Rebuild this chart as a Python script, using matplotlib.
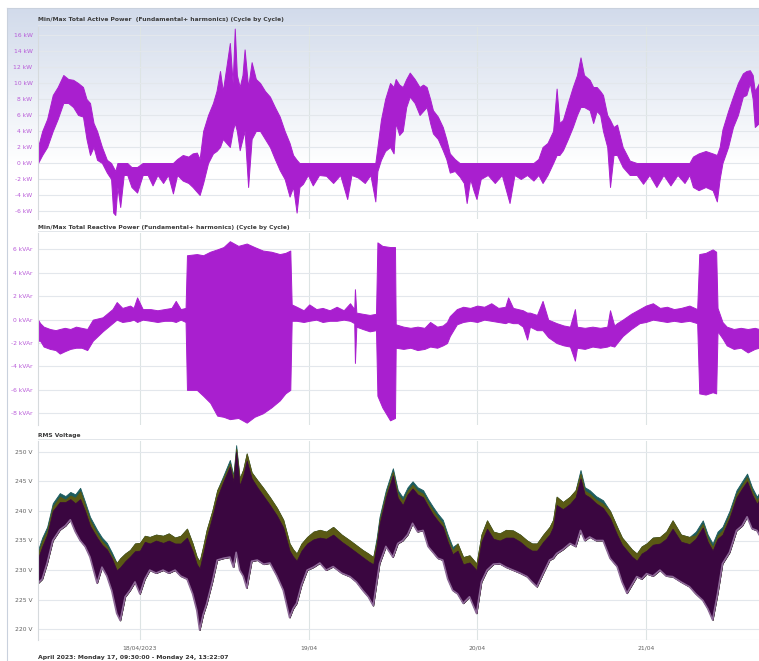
import numpy as np
import matplotlib.pyplot as plt
from matplotlib.colors import LinearSegmentedColormap

# time axis: hours since Monday 17/04/2023 09:30
day_ticks = [14.5, 38.5, 62.5, 86.5]
day_labels = ["18/04/2023", "19/04", "20/04", "21/04"]
x_end = 102.6

titles = ["Min/Max Total Active Power  (Fundamental+ harmonics) (Cycle by Cycle)",
          "Min/Max Total Reactive Power (Fundamental+ harmonics) (Cycle by Cycle)",
          "RMS Voltage"]
footer = "April 2023: Monday 17, 09:30:00 - Monday 24, 13:22:07"

# active power (kW), min / max per cycle
p_hours = [0.0, 0.6, 1.3, 2.1, 2.8, 3.6, 4.3, 5.0, 5.7, 6.4,
           6.9, 7.4, 7.9, 8.4, 9.1, 9.8, 10.4, 10.7, 11.0, 11.3,
           11.7, 12.2, 12.7, 13.3, 14.1, 14.9, 15.6, 16.3, 17.0, 17.8,
           18.5, 19.2, 19.8, 20.6, 21.4, 22.0, 22.6, 23.0, 23.5, 24.2,
           24.9, 25.4, 25.9, 26.3, 26.8, 27.3, 27.7, 28.0, 28.3, 28.7,
           29.1, 29.4, 29.9, 30.4, 31.0, 31.6, 32.3, 33.0, 33.7, 34.4,
           35.1, 35.8, 36.3, 36.8, 37.2, 37.7, 38.4, 39.1, 40.0, 41.0,
           42.0, 43.0, 44.0, 44.6, 45.5, 46.5, 47.3, 48.0, 48.3, 48.8,
           49.4, 50.1, 50.6, 50.9, 51.4, 51.9, 52.4, 52.9, 53.6, 54.3,
           54.8, 55.3, 55.8, 56.2, 56.9, 57.6, 58.1, 58.6, 59.3, 60.0,
           60.6, 61.0, 61.5, 62.0, 62.4, 63.0, 64.0, 65.0, 66.0, 67.1,
           67.8, 68.7, 69.6, 70.5, 71.2, 71.8, 72.5, 73.3, 73.8, 74.2,
           74.7, 75.4, 76.1, 76.7, 77.2, 77.7, 78.5, 79.0, 79.5, 80.0,
           80.4, 81.0, 81.4, 81.9, 82.4, 83.2, 84.2, 85.2, 86.1, 87.0,
           88.0, 89.0, 90.0, 91.0, 92.0, 92.7, 93.2, 94.0, 95.0, 96.0,
           96.6, 97.0, 97.4, 98.2, 98.9, 99.6, 100.3, 100.8, 101.3, 101.7,
           102.0, 102.6]
p_min = [0.0, 1.0, 2.0, 4.0, 5.5, 7.5, 7.5, 7.0, 6.0, 5.8,
         3.0, 1.0, 2.0, 0.4, 0.0, -1.2, -2.0, -6.2, -6.5, -3.0,
         -5.5, -1.5, -1.5, -3.0, -3.7, -1.5, -1.5, -2.8, -1.5, -2.5,
         -1.5, -3.8, -1.5, -2.2, -2.5, -3.0, -3.6, -4.0, -2.5, 0.0,
         1.2, 1.5, 2.0, 3.0, 2.5, 2.0, 4.0, 5.0, 4.0, 1.6,
         3.0, 4.0, -3.0, 3.0, 4.0, 4.0, 3.0, 2.0, 0.5, -0.9,
         -2.0, -4.2, -3.0, -6.2, -3.0, -2.6, -1.5, -2.8, -1.5, -1.6,
         -2.5, -1.5, -4.5, -1.5, -1.8, -2.5, -1.5, -4.8, -1.0, 0.4,
         1.5, 2.0, 1.2, 5.0, 3.5, 4.0, 7.0, 8.3, 7.5, 6.0,
         6.5, 7.0, 5.0, 3.7, 3.0, 1.6, 0.5, -1.2, -1.0, -1.7,
         -2.5, -5.0, -2.0, -3.5, -4.5, -2.0, -1.5, -2.5, -1.5, -5.0,
         -1.5, -2.0, -1.5, -2.2, -1.5, -2.5, -1.5, 0.0, 1.0, 1.0,
         1.6, 3.0, 4.5, 6.0, 7.0, 7.0, 6.6, 5.0, 6.5, 6.0,
         4.0, 2.0, -3.0, 1.0, 1.0, -0.5, -1.5, -1.5, -2.6, -1.5,
         -3.0, -1.5, -2.8, -1.5, -2.5, -1.5, -3.0, -3.4, -3.0, -3.4,
         -4.8, -2.0, 0.0, 2.0, 4.5, 6.0, 8.3, 8.5, 10.0, 8.0,
         4.5, 5.0]
p_max = [2.0, 4.0, 5.5, 8.5, 9.5, 11.0, 10.5, 10.4, 10.0, 9.5,
         8.0, 7.5, 5.0, 4.0, 2.0, 0.4, 0.0, -0.5, -1.0, 0.0,
         0.0, 0.0, 0.0, -0.5, -0.5, 0.0, 0.0, 0.0, 0.0, 0.0,
         0.0, 0.0, 0.5, 1.0, 0.8, 1.2, 1.3, 0.5, 4.0, 6.0,
         7.5, 9.0, 11.5, 9.0, 12.0, 15.0, 10.0, 16.8, 11.0, 9.5,
         11.0, 14.2, 9.5, 12.6, 10.5, 10.0, 9.0, 8.3, 7.0, 5.8,
         4.0, 2.5, 1.0, 0.4, 0.0, 0.0, 0.0, 0.0, 0.0, 0.0,
         0.0, 0.0, 0.0, 0.0, 0.0, 0.0, 0.0, 0.0, 2.0, 5.4,
         8.0, 10.0, 9.5, 10.5, 9.8, 9.5, 10.5, 11.3, 10.5, 9.5,
         9.8, 9.5, 8.0, 6.6, 5.8, 4.5, 3.0, 1.2, 0.5, 0.0,
         0.0, 0.0, 0.0, 0.0, 0.0, 0.0, 0.0, 0.0, 0.0, 0.0,
         0.0, 0.0, 0.0, 0.0, 0.5, 2.0, 2.5, 4.0, 9.3, 5.0,
         5.4, 7.5, 9.5, 11.0, 13.2, 11.0, 10.4, 9.5, 9.5, 9.0,
         8.5, 6.0, 5.4, 4.5, 4.8, 2.0, 0.3, 0.0, 0.0, 0.0,
         0.0, 0.0, 0.0, 0.0, 0.0, 0.0, 0.8, 1.2, 1.5, 1.2,
         1.0, 2.0, 4.2, 6.5, 8.3, 10.0, 11.2, 11.5, 11.6, 11.0,
         9.0, 10.0]

# reactive power (kVAr), min / max per cycle
q_hours = [0.0, 0.3, 0.8, 1.7, 2.5, 3.1, 3.8, 4.6, 5.4, 6.2,
           7.0, 7.4, 7.8, 8.5, 9.2, 10.0, 10.6, 11.2, 12.0, 13.1,
           13.6, 14.1, 14.9, 16.0, 17.0, 18.0, 19.0, 19.6, 20.3, 21.0,
           21.2, 22.6, 23.5, 24.5, 25.5, 26.4, 27.3, 28.5, 29.7, 30.8,
           32.0, 33.2, 34.4, 35.2, 35.9, 36.1, 36.8, 37.8, 38.6, 39.6,
           40.5, 41.5, 42.5, 43.5, 44.4, 45.0, 45.1, 45.3, 46.2, 47.2,
           48.1, 48.3, 49.0, 50.1, 50.8, 50.9, 52.0, 53.0, 54.0, 55.0,
           55.8, 56.8, 57.6, 58.2, 58.6, 59.6, 60.5, 61.5, 62.5, 63.5,
           64.5, 65.5, 66.5, 66.9, 67.6, 68.3, 69.0, 69.6, 70.0, 71.0,
           71.8, 72.6, 73.8, 74.8, 75.7, 76.4, 76.7, 77.8, 78.9, 80.0,
           81.0, 81.4, 82.0, 82.4, 83.2, 84.4, 85.6, 86.5, 87.5, 88.5,
           89.5, 90.5, 91.5, 92.7, 93.8, 94.1, 95.0, 96.0, 96.5, 96.7,
           97.4, 98.0, 99.0, 100.0, 101.0, 102.0, 102.6]
q_min = [-1.8, -1.8, -2.3, -2.5, -2.6, -2.9, -2.7, -2.5, -2.4, -2.4,
         -2.6, -2.2, -1.8, -1.4, -1.0, -0.6, -0.3, 0.0, -0.2, -0.1,
         0.0, -0.2, 0.0, -0.1, -0.2, -0.1, -0.1, -0.2, 0.0, -0.2,
         -6.0, -6.0, -6.5, -7.1, -8.2, -8.3, -8.5, -8.4, -8.8, -8.3,
         -8.0, -7.5, -6.9, -6.3, -6.0, -0.1, -0.1, -0.2, -0.1, 0.0,
         -0.2, -0.1, -0.1, 0.0, -0.1, -0.3, -3.7, -0.6, -0.8, -1.0,
         -0.9, -6.5, -7.5, -8.6, -8.4, -2.4, -2.5, -2.4, -2.6, -2.5,
         -2.3, -2.4, -2.2, -2.0, -1.4, -0.4, -0.2, -0.1, -0.2, 0.0,
         -0.1, -0.2, -0.3, -0.2, -0.3, -0.3, -0.6, -1.7, -0.6, -0.9,
         -0.9, -1.5, -2.0, -2.2, -2.3, -3.5, -2.4, -2.5, -2.3, -2.4,
         -2.3, -2.2, -2.3, -2.0, -1.4, -0.8, -0.3, -0.2, 0.0, -0.1,
         -0.2, -0.1, -0.2, -0.1, -0.3, -6.3, -6.4, -6.2, -6.3, -1.0,
         -1.6, -2.2, -2.5, -2.4, -2.8, -2.5, -2.4]
q_max = [0.0, -0.3, -0.6, -0.8, -0.9, -0.8, -0.7, -0.8, -0.6, -0.7,
         -0.8, -0.4, 0.0, 0.1, 0.2, 0.6, 0.9, 1.5, 1.0, 1.2,
         1.0, 1.9, 0.9, 0.9, 0.8, 0.9, 1.0, 1.6, 0.9, 1.0,
         5.5, 5.6, 5.5, 5.8, 6.0, 6.2, 6.7, 6.3, 6.5, 6.2,
         5.9, 5.8, 5.6, 5.7, 5.9, 1.3, 1.1, 0.8, 1.3, 0.9,
         1.0, 0.8, 1.1, 0.8, 1.4, 0.9, 2.6, 0.6, 0.5, 0.4,
         0.5, 6.6, 6.3, 6.2, 6.2, -0.4, -0.6, -0.7, -0.6, -0.7,
         -0.2, -0.6, -0.5, -0.2, 0.3, 0.9, 1.1, 1.0, 1.2, 1.1,
         1.4, 1.0, 1.1, 1.9, 1.0, 0.9, 0.8, 0.6, 0.6, 0.4,
         1.6, 0.0, -0.3, -0.5, -0.6, 0.9, -0.6, -0.7, -0.6, -0.7,
         -0.6, 0.8, -0.5, -0.3, 0.0, 0.5, 0.9, 1.2, 1.4, 1.0,
         1.1, 0.9, 1.0, 1.2, 0.9, 5.6, 5.7, 6.0, 5.8, 1.0,
         -0.2, -0.6, -0.8, -0.7, -0.8, -0.7, -0.8]

# RMS voltage (V), three phases
v_hours = [0.0, 0.6, 1.3, 2.1, 3.1, 3.9, 4.6, 5.3, 6.0, 6.7,
           7.4, 8.4, 9.1, 9.8, 10.5, 11.2, 11.7, 12.4, 13.1, 13.8,
           14.5, 15.2, 15.9, 16.8, 17.8, 18.6, 19.5, 20.3, 21.2, 22.0,
           22.6, 23.0, 23.5, 24.0, 24.8, 25.5, 26.4, 27.3, 27.8, 28.2,
           28.7, 29.2, 29.7, 30.4, 31.2, 32.1, 33.0, 34.0, 34.9, 35.8,
           36.3, 36.8, 37.5, 38.3, 39.2, 40.1, 41.0, 42.0, 43.2, 44.4,
           45.3, 46.2, 47.0, 47.7, 48.2, 48.6, 49.5, 50.5, 51.2, 51.9,
           52.6, 53.3, 54.0, 54.8, 55.5, 56.2, 56.9, 57.6, 58.3, 59.0,
           59.7, 60.5, 61.4, 62.4, 63.1, 63.9, 64.8, 65.7, 66.6, 67.6,
           68.6, 69.6, 70.3, 71.0, 71.9, 72.8, 73.3, 73.8, 74.7, 75.7,
           76.5, 77.2, 77.8, 78.5, 79.4, 80.4, 81.4, 82.4, 83.1, 83.8,
           84.5, 85.2, 85.9, 86.6, 87.5, 88.5, 89.4, 90.3, 91.5, 92.7,
           93.6, 94.6, 95.3, 96.0, 96.7, 97.4, 98.4, 99.4, 100.2, 100.9,
           101.6, 102.3, 102.6]
v_min = [227.8, 228.5, 231.2, 235.0, 236.8, 237.5, 238.5, 236.5, 235.0, 234.0,
         232.2, 227.8, 230.5, 229.0, 226.5, 222.7, 221.5, 225.5, 226.6, 228.0,
         226.0, 228.5, 230.0, 229.5, 230.0, 229.5, 230.0, 229.0, 228.5, 226.0,
         223.2, 219.9, 222.5, 224.3, 228.0, 231.7, 232.0, 232.2, 230.5, 233.0,
         230.0, 229.0, 227.0, 231.5, 231.7, 231.0, 231.2, 229.0, 226.6, 222.0,
         223.5, 224.4, 227.5, 230.0, 230.5, 231.2, 230.0, 230.6, 229.5, 228.9,
         228.0, 226.6, 225.5, 224.0, 228.0, 231.1, 234.0, 232.2, 234.5, 235.0,
         236.0, 237.9, 236.5, 236.7, 234.0, 233.0, 232.0, 231.7, 228.5, 226.6,
         226.0, 224.4, 225.5, 222.7, 228.0, 230.0, 231.0, 231.1, 230.5, 230.0,
         229.5, 228.9, 228.0, 227.2, 229.5, 231.7, 232.0, 232.8, 233.5, 234.5,
         234.0, 236.7, 235.0, 235.6, 235.0, 235.0, 232.0, 230.6, 228.0, 226.1,
         227.5, 228.9, 228.5, 229.4, 229.0, 230.0, 229.0, 228.9, 228.0, 227.2,
         226.0, 224.9, 223.5, 221.6, 226.0, 231.1, 233.0, 236.7, 237.5, 239.0,
         237.0, 236.7, 236.0]
v_max_l1 = [233.4, 235.5, 237.3, 241.3, 243.0, 242.5, 243.2, 242.8, 243.9, 241.5,
            239.0, 236.8, 235.5, 234.6, 233.0, 231.2, 232.0, 232.8, 233.4, 234.5,
            234.6, 235.8, 235.6, 236.0, 235.8, 236.2, 235.5, 235.8, 237.0, 234.5,
            232.2, 231.5, 234.0, 236.8, 240.0, 243.5, 246.0, 248.6, 246.0, 251.1,
            245.5, 247.0, 249.7, 246.5, 245.2, 243.8, 242.3, 240.5, 238.5, 234.5,
            233.5, 232.8, 234.5, 235.6, 236.5, 236.8, 236.5, 237.3, 236.0, 235.0,
            234.2, 233.4, 232.8, 232.2, 235.5, 239.0, 243.5, 247.2, 243.5, 242.3,
            244.0, 245.0, 244.0, 243.5, 242.0, 240.7, 239.5, 238.5, 236.0, 233.9,
            234.5, 232.2, 232.5, 231.1, 236.0, 238.4, 236.5, 236.2, 236.8, 236.7,
            236.0, 235.0, 234.5, 234.5, 236.0, 237.3, 238.5, 242.4, 241.5, 242.4,
            243.5, 246.9, 244.0, 243.5, 242.5, 241.8, 240.0, 237.3, 235.5, 234.5,
            233.5, 232.8, 234.0, 234.5, 235.5, 235.6, 236.5, 238.4, 236.0, 235.6,
            236.5, 238.4, 236.0, 234.5, 236.5, 237.3, 240.0, 243.5, 245.0, 246.3,
            244.0, 242.4, 243.0]
v_max_l2 = [232.8, 234.9, 236.7, 240.7, 242.4, 241.9, 242.6, 242.2, 243.3, 240.9,
            238.4, 236.2, 234.9, 234.0, 232.4, 231.2, 232.0, 232.8, 233.4, 234.5,
            234.6, 235.8, 235.6, 236.0, 235.8, 236.2, 235.5, 235.8, 237.0, 234.5,
            232.2, 231.5, 234.0, 236.8, 240.0, 243.5, 245.6, 248.0, 245.6, 250.5,
            245.5, 247.0, 249.7, 246.5, 245.2, 243.8, 242.3, 240.5, 238.5, 234.5,
            233.5, 232.8, 234.5, 235.6, 236.5, 236.8, 236.5, 237.3, 236.0, 235.0,
            234.2, 233.4, 232.8, 232.2, 234.9, 238.4, 242.9, 246.6, 242.9, 241.7,
            243.4, 244.4, 243.4, 242.9, 241.4, 240.1, 238.9, 237.9, 235.4, 233.3,
            234.5, 232.2, 232.5, 231.1, 236.0, 238.4, 236.5, 236.2, 236.8, 236.7,
            236.0, 235.0, 234.5, 234.5, 236.0, 237.3, 238.5, 242.4, 241.5, 242.4,
            243.5, 246.3, 243.4, 242.9, 241.9, 241.2, 240.0, 237.3, 235.5, 234.5,
            233.5, 232.8, 234.0, 234.5, 235.5, 235.6, 236.5, 238.4, 236.0, 235.6,
            235.9, 237.8, 235.4, 233.9, 235.9, 236.7, 239.4, 242.9, 244.4, 245.7,
            243.4, 241.8, 242.4]
v_max_l3 = [232.0, 234.0, 236.0, 240.0, 241.5, 241.5, 242.0, 241.3, 242.0, 240.0,
            237.5, 235.5, 234.3, 233.5, 232.0, 230.0, 230.5, 231.5, 232.3, 233.2,
            233.3, 234.8, 234.5, 235.0, 234.6, 235.0, 234.5, 234.5, 235.5, 233.2,
            231.0, 230.3, 232.8, 235.5, 239.0, 242.3, 245.0, 247.5, 245.0, 250.0,
            244.3, 246.0, 248.5, 245.5, 244.0, 242.5, 241.0, 239.2, 237.2, 233.3,
            232.3, 231.6, 233.3, 234.5, 235.2, 235.5, 235.3, 236.0, 234.8, 233.8,
            233.0, 232.2, 231.5, 231.0, 234.2, 237.8, 242.3, 246.0, 242.2, 241.0,
            242.8, 243.8, 242.8, 242.3, 240.8, 239.4, 238.3, 237.3, 234.8, 232.7,
            233.3, 231.0, 231.3, 230.0, 234.8, 237.0, 235.3, 235.0, 235.5, 235.5,
            234.8, 233.8, 233.3, 233.3, 234.8, 236.0, 237.3, 241.0, 240.3, 241.2,
            242.3, 245.5, 242.8, 242.3, 241.3, 240.5, 238.8, 236.0, 234.3, 233.3,
            232.3, 231.6, 232.8, 233.3, 234.3, 234.5, 235.3, 237.0, 234.8, 234.4,
            235.3, 237.2, 234.8, 233.3, 235.3, 236.0, 238.8, 242.3, 243.8, 245.0,
            242.8, 241.2, 241.8]

p_ticks = [16, 14, 12, 10, 8, 6, 4, 2, 0, -2, -4, -6]
q_ticks = [6, 4, 2, 0, -2, -4, -6, -8]
v_ticks = [250, 245, 240, 235, 230, 225, 220]

PURPLE = "#a91fcf"
TICK_PURPLE = "#b85ad8"

W, H = 759, 661
fig = plt.figure(figsize=(W / 100, H / 100), dpi=100)
fig.patch.set_facecolor("white")


def px_axes(x0, y0, x1, y1, **kw):
    return fig.add_axes([x0 / W, 1 - y1 / H, (x1 - x0) / W, (y1 - y0) / H], **kw)


# outer frame with the blue gradient on top
bg = px_axes(7, 8, W, H, zorder=0)
grad = np.linspace(0, 1, 300).reshape(-1, 1)
grad = np.clip(grad * 4.2, 0, 1)
cmap = LinearSegmentedColormap.from_list("g", ["#d2dbeb", "#ffffff"])
bg.imshow(grad, aspect="auto", cmap=cmap, extent=[0, 1, 0, 1], origin="upper")
bg.set_xlim(0, 1)
bg.set_ylim(0, 1)
bg.set_xticks([])
bg.set_yticks([])
for s in ["right", "bottom"]:
    bg.spines[s].set_visible(False)
for s in ["left", "top"]:
    bg.spines[s].set_color("#c9d1dd")
    bg.spines[s].set_linewidth(0.8)


def style(ax, ticks, fmt, color, ylim):
    ax.patch.set_alpha(0)
    ax.set_xlim(0, x_end)
    ax.set_ylim(*ylim)
    ax.set_yticks(ticks)
    ax.set_yticklabels([fmt.format(t) for t in ticks])
    ax.set_xticks(day_ticks)
    ax.tick_params(length=0, labelsize=4.3, pad=4)
    ax.tick_params(axis="y", colors=color)
    ax.grid(True, axis="y", color="#e3e7ec", lw=0.8)
    ax.grid(True, axis="x", color="#dde4e4", lw=0.8)
    ax.set_axisbelow(True)
    for s in ["top", "right", "bottom"]:
        ax.spines[s].set_visible(False)
    ax.spines["left"].set_color("#d6dadd")
    ax.spines["left"].set_linewidth(0.8)


ax1 = px_axes(38, 27, W, 219, zorder=2)
style(ax1, p_ticks, "{} kW", TICK_PURPLE, (-7.0, 17.0))
ax1.set_xticklabels([])
ax1.fill_between(p_hours, p_min, p_max, color=PURPLE, lw=0.7, edgecolor=PURPLE)

ax2 = px_axes(38, 233, W, 425, zorder=2)
style(ax2, q_ticks, "{} kVAr", TICK_PURPLE, (-9.0, 7.4))
ax2.set_xticklabels([])
ax2.fill_between(q_hours, q_min, q_max, color=PURPLE, lw=0.7, edgecolor=PURPLE)

ax3 = px_axes(38, 441, W, 640, zorder=2)
style(ax3, v_ticks, "{} V", "#606060", (218.2, 251.8))
ax3.set_xticklabels(day_labels, color="#606060")
ax3.fill_between(v_hours, v_min, v_max_l1, color="#1c5c5e", lw=0.6, edgecolor="#1c5c5e")
ax3.fill_between(v_hours, v_min, v_max_l2, color="#5a5914", lw=0.6, edgecolor="#5a5914")
ax3.plot(v_hours, v_min, color="#8e6a98", lw=1.2)
ax3.fill_between(v_hours, v_min, v_max_l3, color="#3a0640", lw=0.5, edgecolor="#3a0640")
ax3.axhline(218.2, color="#d6dadd", lw=0.8)

# panel titles and footer
for y, t in zip([20, 228, 436], titles):
    fig.text(38 / W, 1 - y / H, t, fontsize=4.3, fontweight="bold",
             color="#3c3c3c", va="center", ha="left")
for y in [25, 231, 439]:
    fig.add_artist(plt.Line2D([38 / W, 1], [1 - y / H] * 2, color="#e2e6ea", lw=0.7))
fig.text(38 / W, 1 - 657 / H, footer, fontsize=4.4, fontweight="bold",
         color="#333333", va="center", ha="left")

fig.savefig("out.png", dpi=100)
